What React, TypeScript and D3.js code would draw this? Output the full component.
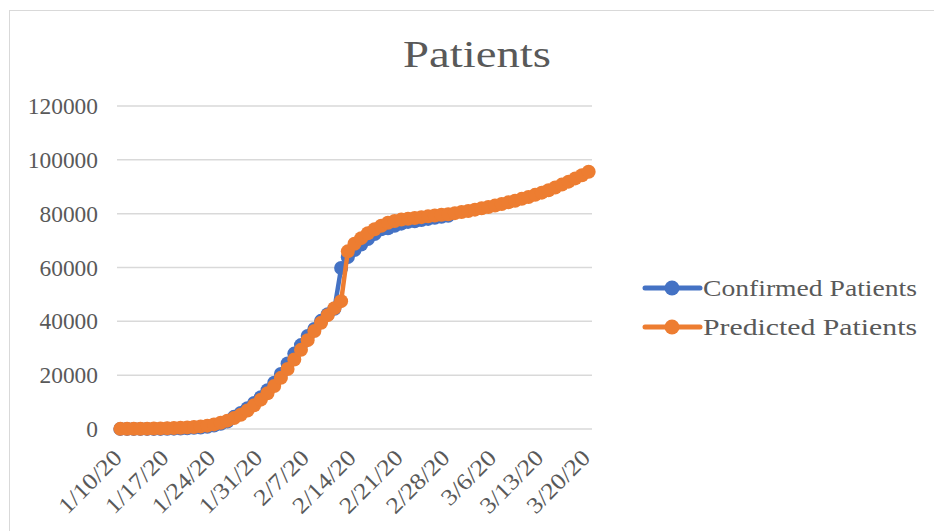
import React from 'react';
import * as d3 from 'd3';

// categories: one per day, 1/10/20 .. 3/20/20
const startDay = new Date(2020, 0, 10);
const days: Date[] = d3.timeDay.range(startDay, d3.timeDay.offset(startDay, 71));
const fmt = (d: Date) => `${d.getMonth() + 1}/${d.getDate()}/20`;

const tickLabels = ['1/10/20', '1/17/20', '1/24/20', '1/31/20', '2/7/20', '2/14/20', '2/21/20', '2/28/20', '3/6/20', '3/13/20', '3/20/20'];
const yTicks = [0, 20000, 40000, 60000, 80000, 100000, 120000];

// confirmed patients, 1/10 .. 2/28
const confirmed = [
    41, 41, 41, 41, 41, 41, 45, 62, 121, 198, 291, 440, 571, 830, 1287, 1975, 2744, 4515, 5974, 7711,
    9692, 11791, 14380, 17205, 20438, 24324, 28018, 31161, 34546, 37198, 40171, 42638, 44653, 59804, 63851, 66492, 68500, 70548, 72436, 74185,
    74576, 75465, 76288, 76936, 77150, 77658, 78064, 78497, 78824, 79251,
];

// predicted patients, 1/10 .. 3/20
const predicted = [
    50, 60, 80, 100, 130, 170, 220, 290, 370, 470, 600, 760, 960, 1250, 1700, 2300, 3100, 4100, 5300, 6900,
    8800, 10900, 13300, 16000, 19000, 22300, 25800, 29400, 33000, 36400, 39500, 42300, 44900, 47500, 66000, 68800, 70900, 72700, 74200, 75500,
    76600, 77300, 77800, 78100, 78400, 78700, 79000, 79300, 79600, 79800, 80200, 80600, 81000, 81500, 82000, 82500, 83000, 83600, 84200, 84800,
    85500, 86200, 87000, 87800, 88700, 89700, 90800, 91900, 93100, 94300, 95600,
];

const series = [
    { name: 'Confirmed Patients', color: '#4472C4', values: confirmed },
    { name: 'Predicted Patients', color: '#ED7D31', values: predicted },
];

const W = 934;
const H = 531;
const textColor = '#595959';
const gridColor = '#d9d9d9';
const font = '"Liberation Serif", serif';

const App: React.FC = () => {
    const labels = days.map(fmt);
    const x = d3.scalePoint<string>().domain(labels).range([117, 592]).padding(0.5);
    const y = d3.scaleLinear().domain([0, 120000]).range([429, 106]);

    const line = d3
        .line<number>()
        .x((_, i) => x(labels[i]) as number)
        .y((v) => y(v));

    return (
        <svg width={W} height={H} style={{ position: 'absolute', left: 0, top: 0, background: '#fff' }}>
            <rect x={9.5} y={10.5} width={W + 10} height={H + 10} fill="#fff" stroke={gridColor} strokeWidth={1} />

            <text x={477} y={67} textAnchor="middle" fill={textColor} fontFamily={font} fontSize={37} textLength={148} lengthAdjust="spacingAndGlyphs">
                Patients
            </text>

            {/* grid + y axis labels */}
            {yTicks.map((t) => (
                <g key={t}>
                    <line x1={117} x2={592} y1={y(t)} y2={y(t)} stroke={gridColor} strokeWidth={1.5} />
                    <text
                        x={98}
                        y={y(t) + 8}
                        textAnchor="end"
                        fill={textColor}
                        fontFamily={font}
                        fontSize={23}
                        textLength={String(t).length * 11.7}
                        lengthAdjust="spacingAndGlyphs"
                    >
                        {t}
                    </text>
                </g>
            ))}

            {/* x axis labels */}
            {tickLabels.map((t) => {
                const px = x(t) as number;
                return (
                    <text
                        key={t}
                        transform={`translate(${px + 3},${459}) rotate(-45)`}
                        textAnchor="end"
                        fill={textColor}
                        fontFamily={font}
                        fontSize={23}
                        textLength={t.length * 11.3}
                        lengthAdjust="spacingAndGlyphs"
                    >
                        {t}
                    </text>
                );
            })}

            {/* series */}
            {series.map((s) => (
                <g key={s.name}>
                    <path d={line(s.values) || ''} fill="none" stroke={s.color} strokeWidth={4.5} strokeLinejoin="round" />
                    {s.values.map((v, i) => (
                        <circle key={i} cx={x(labels[i]) as number} cy={y(v)} r={7} fill={s.color} />
                    ))}
                </g>
            ))}

            {/* legend */}
            {series.map((s, i) => {
                const ly = 288 + i * 39;
                return (
                    <g key={s.name}>
                        <line x1={645} x2={700} y1={ly} y2={ly} stroke={s.color} strokeWidth={5} strokeLinecap="round" />
                        <circle cx={672} cy={ly} r={7.5} fill={s.color} />
                        <text x={703} y={ly + 8} fill={textColor} fontFamily={font} fontSize={24} textLength={214} lengthAdjust="spacingAndGlyphs">
                            {s.name}
                        </text>
                    </g>
                );
            })}
        </svg>
    );
};

export default App;
